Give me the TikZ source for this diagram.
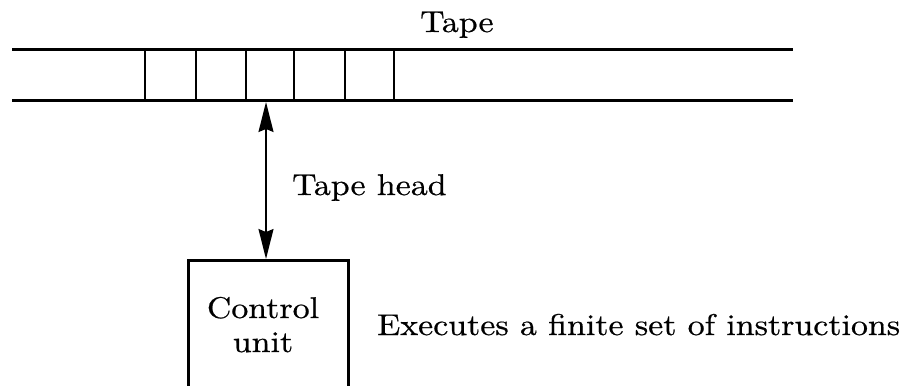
\documentclass[tikz,border=0pt]{standalone}
\usepackage{fontspec}
\setmainfont{lmroman10-regular.otf}[FakeStretch=1.13,FakeBold=0.6]
\usetikzlibrary{arrows.meta}
\begin{document}
\begin{tikzpicture}[x=1pt,y=-1pt,
  tapeline/.style={line width=3pt},
  cellline/.style={line width=2.2pt},
  headarrow/.style={line width=1.5pt,{Stealth[length=30pt,width=15pt,inset=3pt]}-{Stealth[length=30pt,width=15pt,inset=3pt]}},
  unitbox/.style={draw,line width=3pt,minimum width=160pt,minimum height=170pt,inner sep=0pt},
  lbl/.style={font=\fontsize{30}{34}\selectfont,inner sep=0pt}]
\useasboundingbox (0,0) rectangle (901,385);
\clip (0,0) rectangle (901,385);
\coordinate (tl) at (12,50);
\coordinate (tr) at (793,50);
\coordinate (bl) at (12,101);
\coordinate (br) at (793,101);
\draw[tapeline] (tl) -- (tr);
\draw[tapeline] (bl) -- (br);
\foreach \x in {145,196,246,294,345,394} \draw[cellline] (\x,50) -- (\x,101);
\node[lbl,anchor=base west] (tape) at (420,32) {Tape};
\node[unitbox,anchor=north] (cu) at (268,259) {};
\node[lbl,anchor=base] (cu1) at (263,318) {Control};
\node[lbl,anchor=base] (cu2) at (263,352) {unit};
\coordinate (headtop) at (266,102);
\draw[headarrow] (headtop) -- (headtop |- cu.north);
\node[lbl,anchor=base west] (headlbl) at (292,195) {Tape head};
\node[lbl,anchor=base west] (exec) at (377,335) {Executes a finite set of instructions};
\end{tikzpicture}
\end{document}
